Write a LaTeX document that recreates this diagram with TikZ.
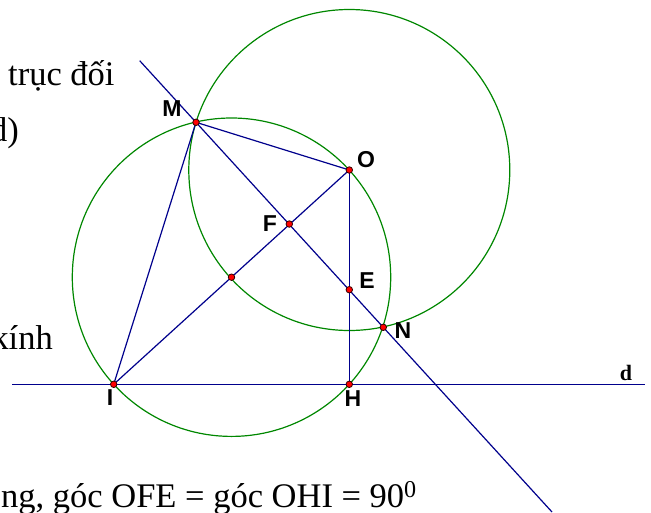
\documentclass[tikz,border=0pt]{standalone}
\usepackage{fontspec}
\setmainfont{Liberation Serif}
\newfontfamily\labfont{Liberation Sans}
\definecolor{lineblue}{RGB}{0,0,140}
\definecolor{circgreen}{RGB}{0,135,0}
\tikzset{
  seg/.style={draw=lineblue, line width=1.2pt},
  circ/.style={draw=circgreen, line width=1.2pt},
  dot/.style={circle, fill=red, draw=black!80!red, line width=0.8pt, inner sep=0pt, minimum size=6.5pt},
  lab/.style={font=\labfont\bfseries\fontsize{23}{23}\selectfont, inner sep=0pt},
  txt/.style={font=\fontsize{34.5}{40}\selectfont, inner sep=0pt},
}
\begin{document}
\begin{tikzpicture}[x=1pt,y=-1pt]
\useasboundingbox (0,0) rectangle (651,512);
\clip (0,0) rectangle (651,512);
% points
\coordinate (M) at (196,122.3);
\coordinate (O) at (349.3,170);
\coordinate (F) at (289.3,224);
\coordinate (E) at (349.3,289.7);
\coordinate (N) at (383.3,327.3);
\coordinate (H) at (349.3,384.3);
\coordinate (I) at (113.7,384.3);
\coordinate (K) at (231.5,277.2);
\coordinate (A) at (139.7,60.7);
\coordinate (B) at (552,512);
\coordinate (dL) at (12,384.3);
\coordinate (dR) at (645,384.3);
% circles
\draw[circ] (K) circle[radius=159.2pt];
\draw[circ] (O) circle[radius=160.5pt];
% lines
\draw[seg] (dL) -- (dR);
\draw[seg] (A) -- (B);
\draw[seg] (M) -- (I);
\draw[seg] (M) -- (O);
\draw[seg] (O) -- (I);
\draw[seg] (O) -- (H);
% dots
\node[dot] (Md) at (M) {};
\node[dot] (Od) at (O) {};
\node[dot] (Fd) at (F) {};
\node[dot] (Ed) at (E) {};
\node[dot] (Nd) at (N) {};
\node[dot] (Hd) at (H) {};
\node[dot] (Id) at (I) {};
\node[dot] (Kd) at (K) {};
% labels
\node[lab] (lM) at (172,109) {M};
\node[lab] (lO) at (366,160) {O};
\node[lab] (lF) at (270,224) {F};
\node[lab] (lE) at (367,281) {E};
\node[lab] (lN) at (403,331) {N};
\node[lab] (lH) at (353,399) {H};
\node[lab] (lI) at (110,398) {I};
\node[font=\bfseries\fontsize{22}{22}\selectfont, inner sep=0pt, anchor=base] (ld) at (626,380) {d};
% text fragments
\node[txt, anchor=base west] (t1) at (8,85) {trục đối};
\node[txt, anchor=base east] (t2) at (19,141) {d)};
\node[txt, anchor=base east] (t3) at (53,349) {kính};
\node[txt, anchor=base west] (t4) at (1,507) {ng, góc OFE = góc OHI = 90\textsuperscript{0}};
\end{tikzpicture}
\end{document}
